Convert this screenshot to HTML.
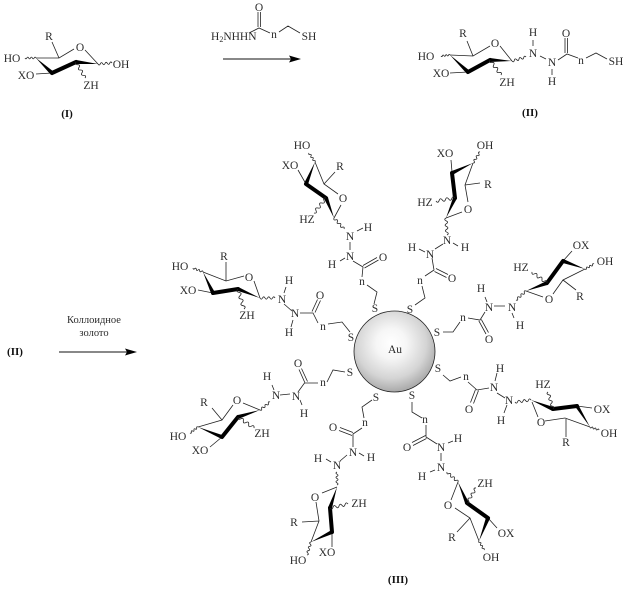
<!DOCTYPE html>
<html><head><meta charset="utf-8"><style>
html,body{margin:0;padding:0;background:#fff}
svg{display:block}
text{font-family:"Liberation Serif","DejaVu Serif",serif;font-size:11.5px;fill:#2b2b2b;text-anchor:middle}
.b{font-weight:bold;font-size:11px;fill:#111}
.t{stroke:#222;stroke-width:.8;fill:none}
.h{stroke:#000;stroke-width:4;fill:none;stroke-linecap:round}
.f{fill:#000}
use{stroke:#222;fill:none}
#w{vector-effect:non-scaling-stroke;stroke-width:.8}
</style></head><body>
<svg width="627" height="590" viewBox="0 0 627 590" xmlns="http://www.w3.org/2000/svg">
<defs>
<radialGradient id="g" cx="46%" cy="40%" r="62%"><stop offset="0" stop-color="#fff"/><stop offset=".3" stop-color="#f6f6f6"/><stop offset=".7" stop-color="#d4d4d4"/><stop offset="1" stop-color="#a4a4a4"/></radialGradient>
<path id="w" d="M0 0q.083 .16 .167 0t.167 0t.167 0t.167 0t.167 0t.167 0"/>
</defs>

<!-- Au sphere -->
<circle cx="394.500" cy="351.500" r="40.500" fill="url(#g)" stroke="#222" stroke-width=".8"/>
<text x="395" y="353">Au</text>

<!-- thin bonds -->
<path class="t" d="
M36 58L59 58L74 49M85 50L98 64M59 58L52 42M36 74L52 73
M249 33L259 28L270 33M258 12L258 27M260.5 12L260.5 27M279 32L288 26L300 33
M450 55L473 56L490 46M500 46L512 61M473 56L467 41M450 73L468 72
M533 40L533 46M540 56L546 59M552 69L552 75M558 60L567 54L578 58M565 38L565 53M567.5 38L567.5 53M586 58L596 53L607 59
M315 162L324 184L338 194M341 205L334 218M324 184L335 172M298 170L306 184
M357 231L363 228M350 242L350 250M340 261L345 258M353 261L363 267L362 277M363 265.5L377 257.5M364.500 268L378.500 260M367 285L377 292L374 304
M203 272L226 281L244 276M254 281L260 298M226 262L226 281M198 290L213 293
M286 287L284 293M284 304L292 311M293 320L291 327M300 313L313 313L318 323M312 311.5L317.500 299.500M315 312.500L320.500 300.500M328 324L342 322L350 332
M473 163L465 185L468 202M462 212L446 218M465 185L480 183M451 160L452 172
M453 243L458 246M443 244L435 249M419 249L425 252M432 258L434 270L425 276M436 268.500L448 274.500M434.500 271.500L446.500 277.500M422 286L425 298L415 305
M585 269L563 280L553 294M543 297L526 291M563 280L576 290M563 261L572 251
M494 306L505 306M512 313L514 318M485 297L487 302M485 312L480 320L468 318M478.800 320.800L486 334M481.300 319.400L488.500 332.600M460 322L453 332L443 332
M198 427L222 420L233 405M243 403L260 410M222 420L212 408M222 437L210 447
M272 385L274 390M280 395L290 394M300 400L302 405M298 392L304.500 383L318 383M304.800 382.500L299 369.500M307.500 381.500L301.500 368.500M327 382L333 370L345 372
M311 542L319 521L316 502M322 493L337 487M302 522L319 521M332 532L332 547
M326 459L331 462M347 455L340 461M359 453L364 456M353 447L353 434L362 428M353 432.500L340 427.500M352 435.500L339 430.500M364 418L362 407L372 400
M590 427L565 418L545 421M538 417L532 402M566 418L566 437M577 406L592 408
M497 373L495 381M497 393L505 398M507 405L504 413M489 388L477 390L468 382M475.500 389.500L470.500 402.500M478.500 390.500L473.500 403.500M443 375L450 381L461 377
M479 541L470 518L455 508M451 500L458 482M470 518L457 532M488 518L497 528
M441 453L441 461M448 443L453 441M430 472L435 470M437 444L426 437L426 425M425.500 435.500L412 442.500M426.500 438.500L413 445.500M412 402L412 412L422 418
"/>

<!-- bold bonds -->
<path class="h" d="M52 73L76 62M468 72L490 60M306 184L326 198M213 293L238 289M452 173L455 198M563 261L547 283M238 417L222 437M330 508L332 532M553 409L577 406M467 503L488 518"/>

<!-- wedges -->
<g class="f">
<polygon points="36,58 50.600,74.500 53.400,71.500"/><polygon points="98,64 76.200,60 75.800,64"/>
<polygon points="450,55 466.600,73.500 469.400,70.500"/><polygon points="512,61 490,58 490,62"/>
<polygon points="315,162 307.900,184.800 304.100,183.200"/><polygon points="334,218 327.900,197.300 324.100,198.700"/>
<polygon points="203,272 211.200,293.900 214.800,292.100"/><polygon points="260,298 238.800,287.200 237.200,290.800"/>
<polygon points="473,163 451.100,171.200 452.900,174.800"/><polygon points="446,218 456.800,198.800 453.200,197.200"/>
<polygon points="585,269 563.700,259.100 562.300,262.900"/><polygon points="526,291 547.700,284.900 546.300,281.100"/>
<polygon points="260,410 238.600,418.900 237.400,415.100"/><polygon points="198,427 221.200,438.800 222.800,435.200"/>
<polygon points="337,487 331.900,508.600 328.100,507.400"/><polygon points="311,542 332.900,533.800 331.100,530.200"/>
<polygon points="531,400 552.200,410.900 553.800,407.100"/><polygon points="590,427 578,404.300 576,407.700"/>
<polygon points="458,482 465.200,503.800 468.800,502.200"/><polygon points="479,541 489.900,518.700 486.100,517.300"/>
</g>

<!-- wavy bonds -->
<g>
<use href="#w" transform="matrix(11 0 0 11 25 58)"/>
<use href="#w" transform="matrix(14 -1 1 14 98 64)"/>
<use href="#w" transform="matrix(9 16 -16 9 76 62)"/>
<use href="#w" transform="matrix(9 -1 1 9 441 56)"/>
<use href="#w" transform="matrix(11 15 -15 11 490 60)"/>
<use href="#w" transform="matrix(14 -4 4 14 512 61)"/>
<use href="#w" transform="matrix(6 9 -9 6 309 153)"/>
<use href="#w" transform="matrix(-12 15 -15 -12 326 198)"/>
<use href="#w" transform="matrix(10 11 -11 10 334 218)"/>
<use href="#w" transform="matrix(10 4 -4 10 193 268)"/>
<use href="#w" transform="matrix(6 20 -20 6 238 289)"/>
<use href="#w" transform="matrix(15 0 0 15 260 298)"/>
<use href="#w" transform="matrix(7 -11 11 7 473 163)"/>
<use href="#w" transform="matrix(-19 3 -3 -19 455 198)"/>
<use href="#w" transform="matrix(1 17 -17 1 446 218)"/>
<use href="#w" transform="matrix(9 -5 5 9 585 269)"/>
<use href="#w" transform="matrix(-15 -11 11 -15 547 283)"/>
<use href="#w" transform="matrix(-10 9 -9 -10 526 291)"/>
<use href="#w" transform="matrix(10 -8 8 10 260 410)"/>
<use href="#w" transform="matrix(-8 6 -6 -8 198 427)"/>
<use href="#w" transform="matrix(16 11 -11 16 238 417)"/>
<use href="#w" transform="matrix(0 13 -13 0 337 472)"/>
<use href="#w" transform="matrix(18 -4 4 18 330 508)"/>
<use href="#w" transform="matrix(-4 13 -13 -4 311 542)"/>
<use href="#w" transform="matrix(16 -2 2 16 515 402)"/>
<use href="#w" transform="matrix(-5 -17 17 -5 553 409)"/>
<use href="#w" transform="matrix(9 3 -3 9 590 427)"/>
<use href="#w" transform="matrix(11 10 -10 11 447 472)"/>
<use href="#w" transform="matrix(9 -15 15 9 467 503)"/>
<use href="#w" transform="matrix(5 9 -9 5 479 541)"/>
</g>

<!-- arrows -->
<path class="t" d="M223 59L292 59M59 352L128 352" style="stroke:#111;stroke-width:1"/>
<polygon class="f" points="301,59 289,55.500 291,59 289,62.500"/>
<polygon class="f" points="137,352 125,348.500 127,352 125,355.500"/>

<!-- Molecule I -->
<text x="49" y="40">R</text><text x="80" y="51">O</text><text x="12" y="62">HO</text><text x="121" y="68">OH</text><text x="26" y="79">XO</text><text x="91" y="89">ZH</text>
<text class="b" x="67" y="117">(I)</text>

<!-- Reagent -->
<text x="259" y="11">O</text>
<text x="211" y="40" style="text-anchor:start">H<tspan font-size="8" dy="2">2</tspan><tspan dy="-2">NHHN</tspan></text>
<text x="274" y="38">n</text><text x="309" y="40">SH</text>

<!-- Molecule II -->
<text x="463" y="37">R</text><text x="495" y="47">O</text><text x="426" y="60">HO</text><text x="441" y="77">XO</text><text x="507" y="86">ZH</text>
<text x="533" y="36">H</text><text x="533" y="57">N</text><text x="552" y="66">N</text><text x="552" y="85">H</text>
<text x="566" y="37">O</text><text x="581" y="64">n</text><text x="616" y="65">SH</text>
<text class="b" x="530" y="116">(II)</text>

<!-- Left: II + arrow -->
<text class="b" x="15" y="355">(II)</text>
<text x="94" y="323" style="font-size:10.500px">Коллоидное</text>
<text x="94" y="336" style="font-size:10.500px">золото</text>
<text class="b" x="398" y="583">(III)</text>

<!-- Top-left arm -->
<text x="302" y="149">HO</text><text x="290" y="169">XO</text><text x="340" y="170">R</text><text x="343" y="202">O</text><text x="307" y="223">HZ</text>
<text x="350" y="240">N</text><text x="368" y="231">H</text><text x="350" y="260">N</text><text x="332" y="268">H</text><text x="383" y="261">O</text><text x="362" y="285">n</text><text x="375" y="312">S</text>

<!-- Left arm -->
<text x="180" y="270">HO</text><text x="224" y="260">R</text><text x="249" y="281">O</text><text x="188" y="294">XO</text><text x="247" y="319">ZH</text>
<text x="282" y="303">N</text><text x="289" y="284">H</text><text x="295" y="317">N</text><text x="289" y="336">H</text><text x="320" y="299">O</text><text x="323" y="330">n</text><text x="351" y="341">S</text>

<!-- Top-right arm -->
<text x="445" y="157">XO</text><text x="485" y="149">OH</text><text x="488" y="188">R</text><text x="468" y="213">O</text><text x="425" y="206">HZ</text>
<text x="447" y="244">N</text><text x="465" y="251">H</text><text x="430" y="258">N</text><text x="412" y="251">H</text><text x="452" y="282">O</text><text x="420" y="284">n</text><text x="410" y="313">S</text>

<!-- Right arm -->
<text x="581" y="249">OX</text><text x="605" y="265">OH</text><text x="521" y="271">HZ</text><text x="549" y="303">O</text><text x="580" y="300">R</text>
<text x="512" y="311">N</text><text x="481" y="292">H</text><text x="520" y="329">H</text><text x="489" y="311">N</text><text x="489" y="343">O</text><text x="463" y="321">n</text><text x="437" y="336">S</text>

<!-- Lower-left arm -->
<text x="298" y="367">O</text><text x="267" y="380">H</text><text x="276" y="399">N</text><text x="296" y="400">N</text><text x="304" y="417">H</text><text x="323" y="386">n</text><text x="350" y="376">S</text>
<text x="204" y="406">R</text><text x="237" y="404">O</text><text x="178" y="440">HO</text><text x="200" y="454">XO</text><text x="262" y="437">ZH</text>

<!-- Lower arm 2 -->
<text x="318" y="462">H</text><text x="337" y="469">N</text><text x="353" y="456">N</text><text x="371" y="461">H</text><text x="333" y="431">O</text><text x="365" y="426">n</text><text x="376" y="401">S</text>
<text x="359" y="507">ZH</text><text x="294" y="526">R</text><text x="327" y="556">XO</text><text x="298" y="564">HO</text><text x="315" y="501">O</text>

<!-- Lower-right arm 1 -->
<text x="438" y="372">S</text><text x="466" y="380">n</text><text x="469" y="413">O</text><text x="494" y="391">N</text><text x="500" y="372">H</text><text x="509" y="404">N</text><text x="501" y="424">H</text>
<text x="543" y="388">HZ</text><text x="602" y="413">OX</text><text x="609" y="437">OH</text><text x="541" y="426">O</text><text x="566" y="446">R</text>

<!-- Lower-right arm 2 -->
<text x="412" y="399">S</text><text x="425" y="423">n</text><text x="407" y="451">O</text><text x="441" y="451">N</text><text x="458" y="442">H</text><text x="441" y="471">N</text><text x="422" y="480">H</text>
<text x="485" y="487">ZH</text><text x="506" y="537">OX</text><text x="491" y="561">OH</text><text x="448" y="509">O</text><text x="452" y="541">R</text>
</svg>
</body></html>
